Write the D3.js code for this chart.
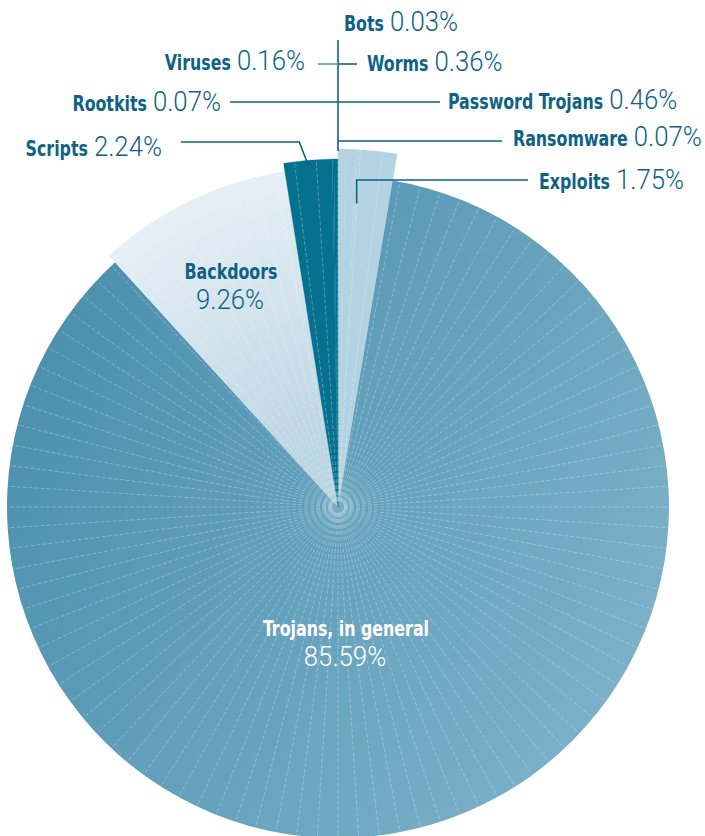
<!DOCTYPE html>
<html>
<head>
<meta charset="utf-8">
<script src="https://cdn.jsdelivr.net/npm/d3@7"></script>
<style>
  body { margin: 0; background: #fff; }
  svg { display: block; }
  .name { font-family: "DejaVu Sans Condensed", "DejaVu Sans", sans-serif; font-weight: 700; font-size: 22px; }
  .pct { font-family: Roboto, "Noto Sans", sans-serif; font-weight: 300; font-size: 28px; }
</style>
</head>
<body>
<svg id="chart" width="705" height="836"></svg>
<script>
// slices, clockwise from 12 o'clock
var categories = ["Worms", "Password Trojans", "Ransomware", "Exploits", "Trojans, in general",
                  "Backdoors", "Scripts", "Rootkits", "Viruses", "Bots"];
var shares = [0.36, 0.46, 0.07, 1.75, 85.59, 9.26, 2.24, 0.07, 0.16, 0.03];

var W = 705, H = 836;
var cx = 338, cy = 507;
var nameSqueeze = 0.8, pctSqueeze = 0.92;

// look of each slice
var sliceStyle = {
  "Worms":               { r: 358, fill: "#b3d3e2" },
  "Password Trojans":    { r: 358, fill: "#b3d3e2" },
  "Ransomware":          { r: 358, fill: "#b3d3e2" },
  "Exploits":            { r: 358, fill: "#b3d3e2" },
  "Trojans, in general": { r: 331, fill: "url(#gTroj)" },
  "Backdoors":           { r: 340, fill: "url(#gBack)" },
  "Scripts":             { r: 348, fill: "#05718f" },
  "Rootkits":            { r: 348, fill: "#05718f" },
  "Viruses":             { r: 348, fill: "#05718f" },
  "Bots":                { r: 348, fill: "#05718f" }
};

// label placement: anchor x, baseline y, side
var labelPos = {
  "Bots":             { x: 344, y: 31,  anchor: "start" },
  "Worms":            { x: 367, y: 71,  anchor: "start" },
  "Viruses":          { x: 305, y: 70,  anchor: "end" },
  "Rootkits":         { x: 221, y: 111, anchor: "end" },
  "Password Trojans": { x: 448, y: 109, anchor: "start" },
  "Ransomware":       { x: 513, y: 146, anchor: "start" },
  "Scripts":          { x: 162, y: 156, anchor: "end" },
  "Exploits":         { x: 539, y: 189, anchor: "start" }
};

var ink = "#0e6283";
var fmt = function(v) { return d3.format(".2f")(v) + "%"; };

var data = categories.map(function(c, i) { return { name: c, value: shares[i] }; });

var svg = d3.select("#chart");
var defs = svg.append("defs");

// gradients live in the pie's own (centred) coordinates
var gT = defs.append("linearGradient").attr("id", "gTroj")
  .attr("gradientUnits", "userSpaceOnUse")
  .attr("x1", -300).attr("y1", -180).attr("x2", 330).attr("y2", 200);
gT.append("stop").attr("offset", 0).attr("stop-color", "#4b90ae");
gT.append("stop").attr("offset", 1).attr("stop-color", "#7fb3ca");

var gB = defs.append("radialGradient").attr("id", "gBack")
  .attr("gradientUnits", "userSpaceOnUse")
  .attr("cx", 0).attr("cy", 0).attr("r", 340);
gB.append("stop").attr("offset", 0).attr("stop-color", "#b2d0df");
gB.append("stop").attr("offset", 1).attr("stop-color", "#e6eff5");

var pie = d3.pie().sort(null).value(function(d) { return d.value; });
var arcs = pie(data);

var arc = d3.arc()
  .innerRadius(0)
  .outerRadius(function(d) { return sliceStyle[d.data.name].r; });

var g = svg.append("g").attr("transform", "translate(" + cx + "," + cy + ")");

g.selectAll("path.slice")
  .data(arcs)
  .enter()
  .append("path")
  .attr("class", "slice")
  .attr("d", arc)
  .attr("fill", function(d) { return sliceStyle[d.data.name].fill; })
  .attr("stroke", function(d) { return sliceStyle[d.data.name].fill.indexOf("url") === 0 ? "none" : sliceStyle[d.data.name].fill; })
  .attr("stroke-width", 0.3);

// thin radial rules every 1 %
var ticks = d3.range(100).map(function(k) { return k / 100 * 2 * Math.PI; });
var radiusAt = function(a) {
  for (var i = 0; i < arcs.length; i++) {
    if (a >= arcs[i].startAngle && a < arcs[i].endAngle) return sliceStyle[arcs[i].data.name].r;
  }
  return sliceStyle[arcs[arcs.length - 1].data.name].r;
};
g.selectAll("line.rule")
  .data(ticks)
  .enter()
  .append("line")
  .attr("class", "rule")
  .attr("x1", function(a) { return Math.sin(a) * 6; })
  .attr("y1", function(a) { return -Math.cos(a) * 6; })
  .attr("x2", function(a) { return Math.sin(a) * radiusAt(a + 1e-6); })
  .attr("y2", function(a) { return -Math.cos(a) * radiusAt(a + 1e-6); })
  .attr("stroke", "#ffffff")
  .attr("stroke-opacity", 0.4)
  .attr("stroke-width", 0.7)
  .attr("stroke-dasharray", "4 2");

g.append("circle").attr("r", 14).attr("fill", "#8fc0d4").attr("opacity", 0.35);

// leader lines
var byName = {};
arcs.forEach(function(d) { byName[d.data.name] = d; });
var leaders = svg.append("g").attr("fill", "none").attr("stroke", ink).attr("stroke-width", 1.6);

var topY = cy - sliceStyle["Exploits"].r;
leaders.append("path").attr("d", "M" + cx + ",40V" + (topY + 2));
leaders.append("path").attr("d", "M" + cx + ",64H357");
leaders.append("path").attr("d", "M318,64H" + cx).attr("stroke", "#5f9bb5");
leaders.append("path").attr("d", "M230,102H" + cx);
leaders.append("path").attr("d", "M" + cx + ",102H440");
leaders.append("path").attr("d", "M" + cx + ",141H502");

var sc = byName["Scripts"];
var aS = (sc.startAngle + sc.endAngle) / 2;
var sx = cx + Math.sin(aS) * 343, sy = cy - Math.cos(aS) * 343;
leaders.append("path").attr("d", "M181,142H" + (sx - 9) + "L" + sx + "," + sy);

var ex = byName["Exploits"];
var aE = ex.startAngle + (ex.endAngle - ex.startAngle) * 0.05;
var exX = cx + Math.sin(aE) * 304, exY = cy - Math.cos(aE) * 304;
leaders.append("path").attr("d", "M528,180H" + exX + "V" + exY);

// a label = squeezed bold name + light percentage
var drawLabel = function(x, y, anchor, name, pct, color) {
  var lg = svg.append("g");
  var t1 = lg.append("text").attr("class", "name").attr("fill", color).text(name);
  var t2 = lg.append("text").attr("class", "pct").attr("fill", color).text(pct);
  var w1 = t1.node().getComputedTextLength() * nameSqueeze;
  var gap = 6;
  var w2 = t2.node().getComputedTextLength() * pctSqueeze;
  var total = w1 + gap + w2;
  var x0 = anchor === "end" ? x - total : x;
  t1.attr("transform", "translate(" + x0 + "," + y + ") scale(" + nameSqueeze + ",1)");
  t2.attr("transform", "translate(" + (x0 + w1 + gap) + "," + y + ") scale(" + pctSqueeze + ",1)");
};

data.filter(function(d) { return labelPos[d.name]; }).forEach(function(d) {
  var p = labelPos[d.name];
  drawLabel(p.x, p.y, p.anchor, d.name, fmt(d.value), ink);
});

// labels inside the big slices, centred
var drawCentred = function(x, y, name, pct, color) {
  svg.append("text").attr("class", "name").attr("fill", color)
    .attr("text-anchor", "middle").text(name)
    .attr("transform", "translate(" + x + "," + y + ") scale(" + nameSqueeze + ",1)");
  svg.append("text").attr("class", "pct").attr("fill", color)
    .attr("text-anchor", "middle").text(pct)
    .attr("transform", "translate(" + (x - 1) + "," + (y + 30) + ") scale(" + pctSqueeze + ",1)");
};
drawCentred(231, 279, "Backdoors", fmt(byName["Backdoors"].data.value), ink);
drawCentred(346, 636, "Trojans, in general", fmt(byName["Trojans, in general"].data.value), "#ffffff");
</script>
</body>
</html>
